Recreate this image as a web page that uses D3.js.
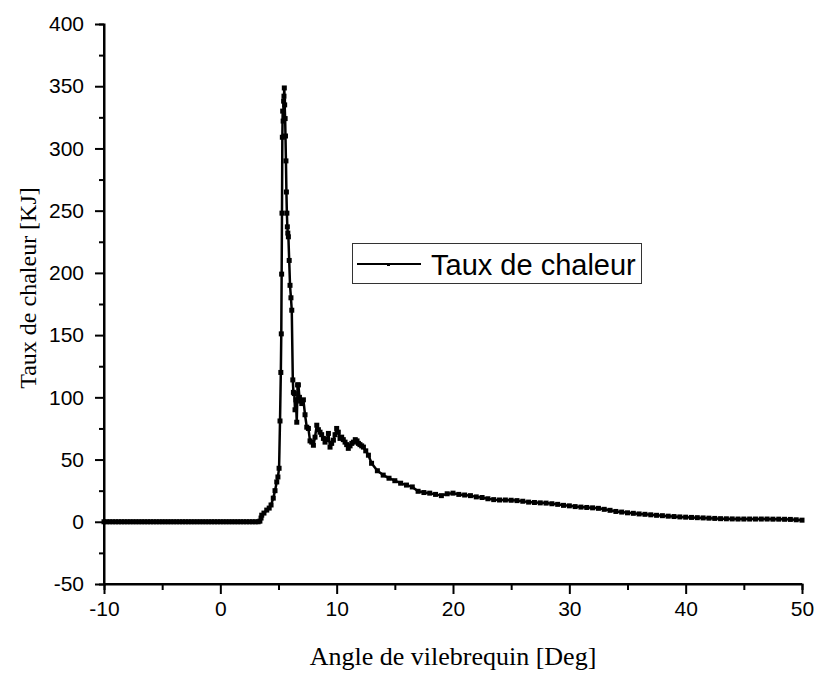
<!DOCTYPE html>
<html>
<head>
<meta charset="utf-8">
<script src="https://cdn.jsdelivr.net/npm/d3@7/dist/d3.min.js"></script>
<style>
  html, body { margin: 0; padding: 0; background: #fff; }
  svg { display: block; }
</style>
</head>
<body>
<svg id="chart" width="818" height="673"></svg>
<script>
// Crank angle [deg] and heat release rate [kJ], split by phase
const preIgnitionAngle = [-10,-9.75,-9.5,-9.25,-9,-8.75,-8.5,-8.25,-8,-7.75,-7.5,-7.25,-7,-6.75,-6.5,-6.25,-6,-5.75,-5.5,-5.25,-5,-4.75,-4.5,-4.25,-4,-3.75,-3.5,-3.25,-3,-2.75,-2.5,-2.25,-2,-1.75,-1.5,-1.25,-1,-0.75,-0.5,-0.25,0,0.25,0.5,0.75,1,1.25,1.5,1.75,2,2.25,2.5,2.75,3,3.25];
const preIgnitionTaux  = [0,0,0,0,0,0,0,0,0,0,0,0,0,0,0,0,0,0,0,0,0,0,0,0,0,0,0,0,0,0,0,0,0,0,0,0,0,0,0,0,0,0,0,0,0,0,0,0,0,0,0,0,0,0];

const combustionAngle = [3.4,3.5,3.56,3.75,3.99,4.2,4.36,4.55,4.7,4.85,4.95,5.05,5.13,5.2,5.24,5.27,5.3,5.33,5.36,5.4,5.44,5.47,5.5,5.53,5.57,5.6,5.64,5.68,5.72,5.76,5.8,5.85,5.92,5.99,6.07,6.14,6.23,6.28,6.36,6.42,6.5,6.57,6.64,6.71,6.8,6.9,7.0,7.14,7.28,7.43,7.57,7.71,7.86,8.0,8.14,8.29,8.43,8.57,8.71,8.86,9.0,9.14,9.29,9.43,9.57,9.72,9.86,10.0,10.14,10.29,10.43,10.57,10.72,10.86,11.0,11.15,11.3,11.44,11.6,11.75,11.87,12.0,12.15,12.3,12.5,12.73];
const combustionTaux  = [0.5,3,5.3,7,9.4,11,13.5,19,25,32,36,43,81,120,151,199,248,309,330,322,338,342,348.6,335,324,310,290,265,248,237,232,229,210,190,180,170,114,104,103,90,98,80,110,110,100,97,95,98,86,76,75,65,64,61.5,68,77.6,74,72,70,67,64,66,71,60,63,65.6,70,75,72,67,68,66,64,62,59,61,63,64,66,65,63,62,61,60,57,53.5];

const expansionAngle = [13,13.5,14,14.5,15,15.5,16,16.5,17,17.5,18,18.5,19,19.5,20,20.5,21,21.5,22,22.5,23,23.5,24,24.5,25,25.5,26,26.5,27,27.5,28,28.5,29,29.5,30,30.5,31,31.5,32,32.5,33,33.5,34,34.5,35,35.5,36,36.5,37,37.5,38,38.5,39,39.5,40,40.5,41,41.5,42,42.5,43,43.5,44,44.5,45,45.5,46,46.5,47,47.5,48,48.5,49,49.5,50];
const expansionTaux  = [47,41,37.5,35,33,31,29.5,28,24.5,23.5,23,22,21,22.5,23,22,21.5,21,20,19.5,18.5,17.8,17.5,17.5,17.3,17,16.5,15.8,15.5,15.2,15,14.5,14,13.2,12.8,12.2,11.8,11.5,11.2,10.8,10,9.2,8.3,7.8,7.2,6.8,6.3,6,5.6,5.2,4.9,4.5,4.2,3.9,3.7,3.5,3.3,3.1,2.9,2.7,2.5,2.4,2.3,2.2,2.2,2.2,2.2,2.2,2.2,2.1,2.1,2.0,1.9,1.6,1.3];

const xTicks = [-10, 0, 10, 20, 30, 40, 50];
const xMinorTicks = [-5, 5, 15, 25, 35, 45];
const yTicks = [-50, 0, 50, 100, 150, 200, 250, 300, 350, 400];
const yMinorTicks = [-25, 25, 75, 125, 175, 225, 275, 325, 375];

const seriesName = "Taux de chaleur";
const xTitle = "Angle de vilebrequin [Deg]";
const yTitle = "Taux de chaleur [KJ]";

const angle = preIgnitionAngle.concat(combustionAngle, expansionAngle);
const taux = preIgnitionTaux.concat(combustionTaux, expansionTaux);
const points = angle.map((a, i) => ({ a, v: taux[i] }));

const svg = d3.select("#chart");
const x = d3.scaleLinear().domain([-10, 50]).range([104, 802]);
const y = d3.scaleLinear().domain([-50, 400]).range([584, 24]);

const sans = "Arial, 'Liberation Sans', sans-serif";
const serif = "'Times New Roman', 'Liberation Serif', serif";
const plainInt = d => String(d); // hyphen-minus, as printed on the axes

function styleAxis(g) {
  g.select(".domain").attr("stroke", "#000").attr("stroke-width", 2);
  g.selectAll(".tick line").attr("stroke", "#000").attr("stroke-width", 2);
  g.selectAll(".tick text").attr("fill", "#000").style("font-family", sans).style("font-size", "21px");
}

// Minor ticks first, then major axes on top
svg.append("g").attr("transform", `translate(0,${y(-50)})`)
  .call(d3.axisBottom(x).tickValues(xMinorTicks).tickSize(6).tickFormat(""))
  .call(styleAxis);
svg.append("g").attr("transform", `translate(${x(-10)},0)`)
  .call(d3.axisLeft(y).tickValues(yMinorTicks).tickSize(5).tickFormat(""))
  .call(styleAxis);

const gx = svg.append("g").attr("transform", `translate(0,${y(-50)})`)
  .call(d3.axisBottom(x).tickValues(xTicks).tickSize(10).tickPadding(7).tickFormat(plainInt))
  .call(styleAxis);
const gy = svg.append("g").attr("transform", `translate(${x(-10)},0)`)
  .call(d3.axisLeft(y).tickValues(yTicks).tickSize(9).tickPadding(11).tickFormat(plainInt))
  .call(styleAxis);
gx.select(".domain").attr("d", `M${x(-10)},0H${x(50)}`);
gy.select(".domain").attr("d", `M0,${y(-50)}V${y(400)}`);

// Series line with square markers
const line = d3.line().x(d => x(d.a)).y(d => y(d.v));
svg.append("path").datum(points)
  .attr("fill", "none").attr("stroke", "#000").attr("stroke-width", 2.5)
  .attr("stroke-linejoin", "round").attr("d", line);
svg.append("g").selectAll("rect").data(points).join("rect")
  .attr("x", d => x(d.a) - 2.5).attr("y", d => y(d.v) - 2.5)
  .attr("width", 5).attr("height", 5).attr("fill", "#000");

// Legend
const lg = svg.append("g");
lg.append("rect").attr("x", 352.5).attr("y", 243.5).attr("width", 289).attr("height", 40)
  .attr("fill", "#fff").attr("stroke", "#333").attr("stroke-width", 1);
lg.append("line").attr("x1", 357).attr("x2", 421).attr("y1", 264).attr("y2", 264)
  .attr("stroke", "#000").attr("stroke-width", 2);
lg.append("rect").attr("x", 387).attr("y", 263).attr("width", 3).attr("height", 3).attr("fill", "#000");
lg.append("text").attr("x", 431).attr("y", 275).text(seriesName)
  .style("font-family", sans).style("font-size", "29px").attr("fill", "#000");

// Axis titles
svg.append("text").attr("x", 453).attr("y", 665).attr("text-anchor", "middle")
  .style("font-family", serif).style("font-size", "26px").attr("fill", "#000").text(xTitle);
svg.append("text").attr("transform", "translate(36,288) rotate(-90)").attr("text-anchor", "middle")
  .style("font-family", serif).style("font-size", "24px").attr("fill", "#000").text(yTitle);
</script>
</body>
</html>
